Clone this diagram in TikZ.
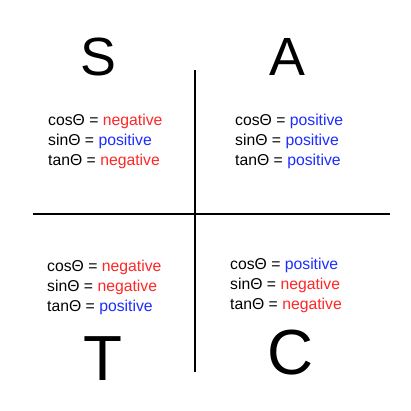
\documentclass[tikz,border=0pt]{standalone}
\usepackage{fontspec}
\setmainfont{Liberation Sans}
\definecolor{negred}{RGB}{255,38,38}
\definecolor{posblue}{RGB}{28,44,255}
\newcommand{\negsign}{\textcolor{negred}{negative}}
\newcommand{\possign}{\textcolor{posblue}{positive}}
\begin{document}
\begin{tikzpicture}[
      x=1bp, y=-1bp,
      letter/.style={anchor=base, inner sep=0pt, font=\fontsize{54}{54}\selectfont},
      bigletter/.style={letter, font=\fontsize{64}{64}\selectfont},
      signs/.style={anchor=base west, inner sep=0pt, align=left, font=\fontsize{15.8}{20}\selectfont},
      axis/.style={line width=2.2bp}
    ]
      \useasboundingbox (0,0) rectangle (411,411);
      % quadrant letters
      \node[letter] (s) at (98,75) {S};
      \node[letter] (a) at (287,75) {A};
      \node[bigletter] (t) at (103,380) {T};
      \node[bigletter] (c) at (291,374) {C};
      % sign tables (placed by the baseline of their last line)
      \node[signs] (q2) at (48,165) {cosΘ = \negsign\\sinΘ = \possign\\tanΘ = \negsign};
      \node[signs] (q1) at (235,165) {cosΘ = \possign\\sinΘ = \possign\\tanΘ = \possign};
      \node[signs] (q3) at (47,311) {cosΘ = \negsign\\sinΘ = \negsign\\tanΘ = \possign};
      \node[signs] (q4) at (230,309) {cosΘ = \possign\\sinΘ = \negsign\\tanΘ = \negsign};
      % axes
      \coordinate (top) at (195,70);
      \coordinate (bottom) at (195,372);
      \coordinate (left) at (33,214);
      \coordinate (right) at (390,214);
      \draw[axis] (top) -- (bottom);
      \draw[axis] (left) -- (right);
    \end{tikzpicture}
\end{document}
